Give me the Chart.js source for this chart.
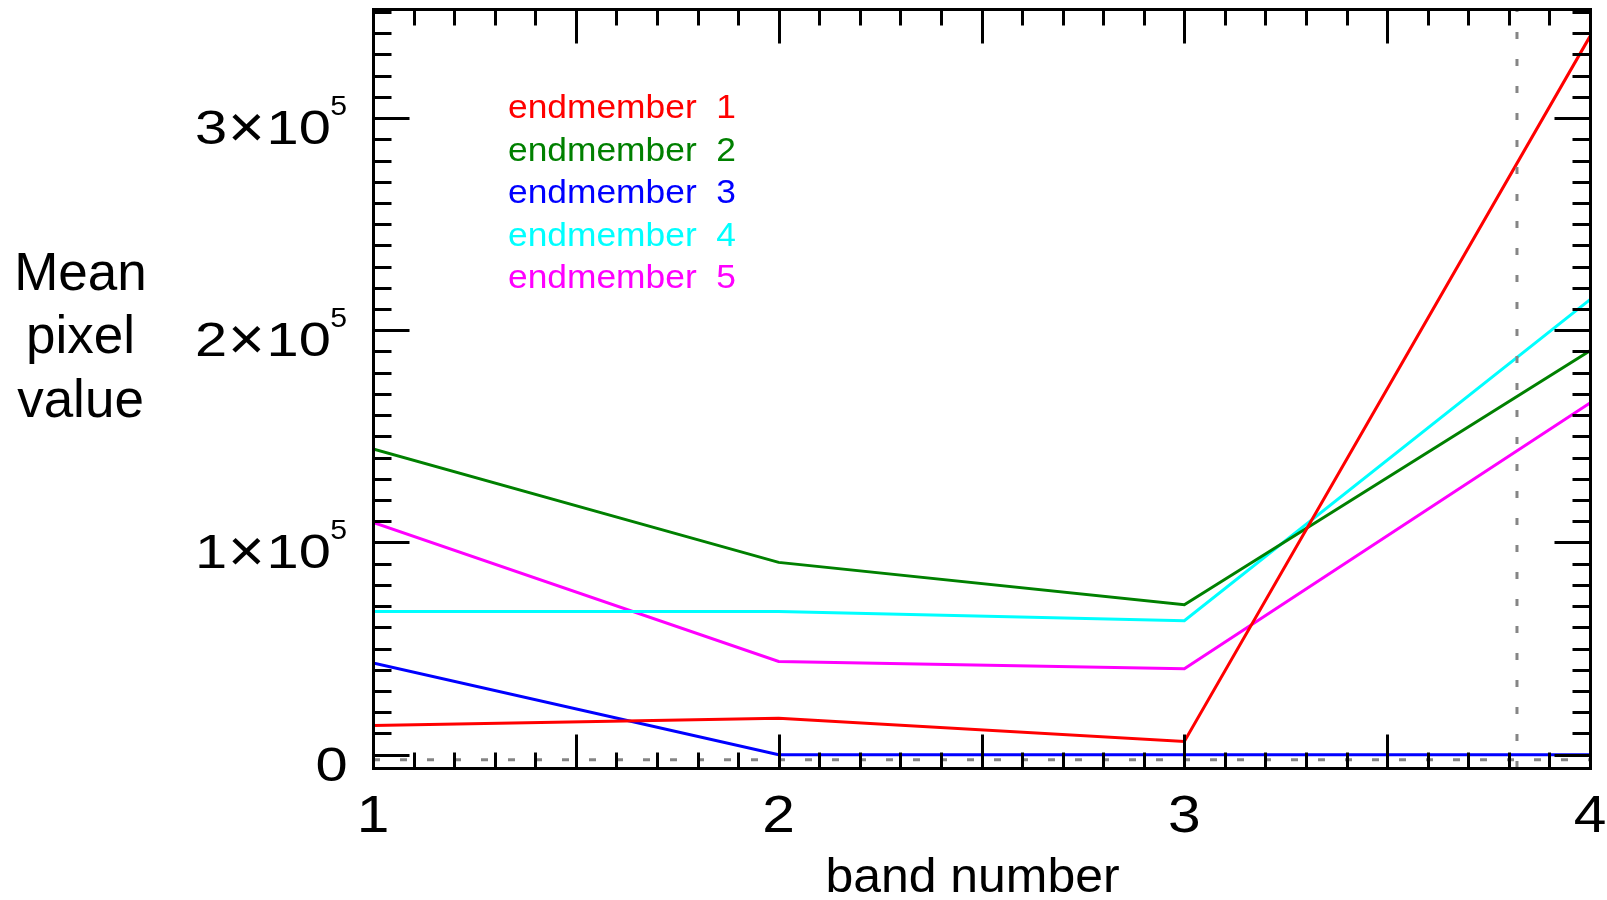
<!DOCTYPE html>
<html>
<head>
<meta charset="utf-8">
<script src="https://cdn.jsdelivr.net/npm/chart.js@4"></script>
<style>
  html, body { margin: 0; padding: 0; background: #fff; }
  canvas { display: block; }
</style>
</head>
<body>
<canvas id="myChart" width="1607" height="900"></canvas>
<script>
// band numbers on the x axis
const bands = [1, 2, 3, 4]

// mean pixel value per band
const endmember1 = [13760, 17200, 6200, 338500]
const endmember2 = [144100, 90600, 70600, 190300]
const endmember3 = [43200, 0, 0, 0]
const endmember4 = [67500, 67500, 63100, 214400]
const endmember5 = [109400, 43900, 40500, 165700]

const seriesLabels = ['endmember  1', 'endmember  2', 'endmember  3', 'endmember  4', 'endmember  5']
const seriesColors = ['#ff0000', '#008000', '#0000ff', '#00ffff', '#ff00ff']

// tick labels
const xTickLabels = ['1', '2', '3', '4']
const yTickValues = [0, 100000, 200000, 300000]
const yTickMantissa = ['0', '1', '2', '3']

// grey dotted reference lines
const refBand = 3.82
const refLevel = -2400

const xMin = 1, xMax = 4
const yMin = -6300, yMax = 351400

const FONT = '"Liberation Sans", Arial, Helvetica, sans-serif'

function toPoints(ys) {
  return bands.map((b, i) => ({ x: b, y: ys[i] }))
}

const series = [endmember1, endmember2, endmember3, endmember4, endmember5]

const datasets = series.map((ys, i) => ({
  label: seriesLabels[i],
  data: toPoints(ys),
  borderColor: seriesColors[i],
  borderWidth: 3,
  pointRadius: 0,
  tension: 0,
  fill: false,
  inLegend: true,
}))

datasets.unshift(
  {
    label: 'ref band',
    data: [{ x: refBand, y: yMin }, { x: refBand, y: yMax }],
    borderColor: '#858585',
    borderWidth: 3,
    borderDash: [7, 20],
    pointRadius: 0,
  },
  {
    label: 'ref level',
    data: [{ x: xMin, y: refLevel }, { x: xMax, y: refLevel }],
    borderColor: '#858585',
    borderWidth: 3,
    borderDash: [7, 20],
    pointRadius: 0,
  }
)

function drawText(ctx, text, x, y, size, color, align, sx) {
  ctx.save()
  ctx.translate(x, y)
  ctx.scale(sx || 1, 1)
  ctx.font = size + 'px ' + FONT
  ctx.fillStyle = color
  ctx.textAlign = align || 'left'
  ctx.textBaseline = 'alphabetic'
  ctx.fillText(text, 0, 0)
  ctx.restore()
}

const crisp = v => Math.round(v) + 0.5

// IDL style box: frame, inward ticks on all sides, labels, legend
const idlAxes = {
  id: 'idlAxes',
  afterDatasetsDraw(chart) {
    const ctx = chart.ctx
    const a = chart.chartArea
    const xs = chart.scales.x
    const ys = chart.scales.y
    const L = crisp(a.left), R = crisp(a.right), T = crisp(a.top), B = crisp(a.bottom)

    ctx.save()
    ctx.strokeStyle = '#000'
    ctx.lineWidth = 3
    ctx.lineCap = 'butt'
    ctx.beginPath()
    // x ticks every 0.1, major every 0.5
    for (let i = 10; i <= 40; i++) {
      const px = crisp(xs.getPixelForValue(i / 10))
      const len = i % 5 === 0 ? 34 : 16
      ctx.moveTo(px, B)
      ctx.lineTo(px, B - len)
      ctx.moveTo(px, T)
      ctx.lineTo(px, T + len)
    }
    // y ticks every 1e4, major every 1e5
    for (let k = 0; k * 10000 <= yMax; k++) {
      const py = crisp(ys.getPixelForValue(k * 10000))
      const len = k % 10 === 0 ? 36 : 18
      ctx.moveTo(L, py)
      ctx.lineTo(L + len, py)
      ctx.moveTo(R, py)
      ctx.lineTo(R - len, py)
    }
    ctx.stroke()
    ctx.lineJoin = 'miter'
    ctx.strokeRect(L, T, R - L, B - T)
    ctx.restore()

    // x tick labels
    xTickLabels.forEach((t, i) => {
      drawText(ctx, t, xs.getPixelForValue(bands[i]), a.bottom + 63.5, 51, '#000', 'center', 1.15)
    })

    // y tick labels, n×10^5
    yTickValues.forEach((v, i) => {
      const py = ys.getPixelForValue(v)
      if (v === 0) {
        drawText(ctx, yTickMantissa[i], a.left - 57.5, py + 26, 49, '#000', 'left', 1.18)
      } else {
        drawText(ctx, yTickMantissa[i], a.left - 178, py + 26, 49, '#000', 'left', 1.18)
        drawText(ctx, '\u00d7', a.left - 126.6, py + 29, 60, '#000', 'center', 1.05)
        drawText(ctx, '10', a.left - 106.5, py + 26, 49, '#000', 'left', 1.18)
        drawText(ctx, '5', a.left - 42.8, py - 3, 27, '#000', 'left', 1.12)
      }
    })

    // axis titles
    drawText(ctx, 'band number', 972.5, 891.5, 48, '#000', 'center', 1.04)
    const yTitle = ['Mean', 'pixel', 'value']
    yTitle.forEach((t, i) => drawText(ctx, t, 80.5, 290 + i * 63.3, 53, '#000', 'center', 1))

    // legend
    let row = 0
    chart.data.datasets.forEach(ds => {
      if (!ds.inLegend) return
      drawText(ctx, ds.label, 508, 118.3 + row * 42.5, 34, ds.borderColor, 'left', 1.04)
      row++
    })
  },
}

new Chart(document.getElementById('myChart').getContext('2d'), {
  type: 'line',
  data: { datasets: datasets },
  options: {
    responsive: false,
    animation: false,
    devicePixelRatio: 1,
    layout: { padding: { left: 373, right: 17, top: 9, bottom: 132 } },
    plugins: {
      legend: { display: false },
      tooltip: { enabled: false },
    },
    scales: {
      x: { type: 'linear', display: false, min: xMin, max: xMax },
      y: { type: 'linear', display: false, min: yMin, max: yMax },
    },
  },
  plugins: [idlAxes],
})
</script>
</body>
</html>
